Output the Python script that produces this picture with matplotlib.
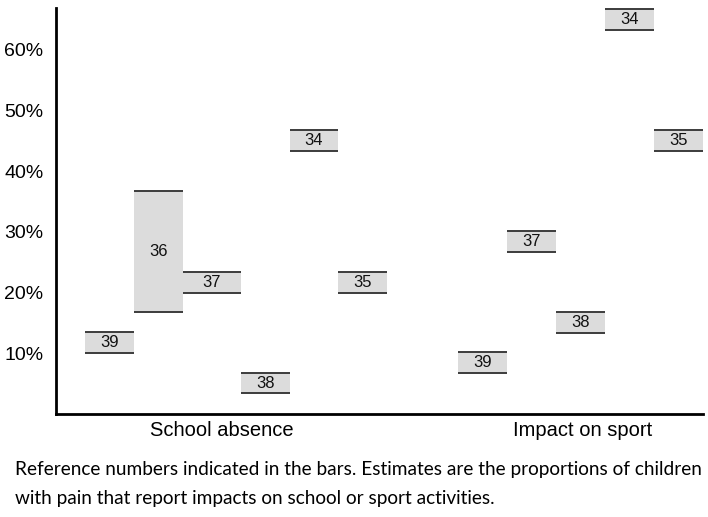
import matplotlib.pyplot as plt

# floating bars: low/high estimate (%) with reference number
school_refs = ['39', '36', '37', '38', '34', '35']
school_low = [10.1, 16.75, 20.0, 3.4, 43.4, 20.0]
school_high = [13.5, 36.8, 23.4, 6.8, 46.8, 23.4]

sport_refs = ['39', '37', '38', '34', '35']
sport_low = [6.7, 26.7, 13.4, 63.3, 43.4]
sport_high = [10.2, 30.2, 16.8, 66.8, 46.8]

categories = ['School absence', 'Impact on sport']
yticks = [10, 20, 30, 40, 50, 60]

caption = ("Reference numbers indicated in the bars. Estimates are the proportions of children\n"
           "with pain that report impacts on school or sport activities.")

# layout (x in pixel-like units along the axis)
school_left = [85, 134, 183, 241, 290, 338]
school_width = [49, 49, 58, 49, 48, 49]
sport_left = [458, 507, 556, 605, 654]
sport_width = [49, 49, 49, 49, 49]
cat_pos = [222, 583]

fill = '#dcdcdc'
edge = '#3c3c3c'

fig = plt.figure(figsize=(7.08, 5.17), dpi=100)
ax = fig.add_axes([56 / 708, 103 / 517, 647 / 708, 406 / 517])


def draw_group(lefts, widths, lows, highs, refs):
    for x, w, lo, hi, ref in zip(lefts, widths, lows, highs, refs):
        ax.bar(x, hi - lo, width=w, bottom=lo, align='edge', color=fill,
               edgecolor='none', zorder=2)
        ax.hlines([lo, hi], x, x + w, colors=edge, linewidth=1.4, zorder=3)
        ax.text(x + w / 2, (lo + hi) / 2, ref, ha='center', va='center',
                fontsize=12, family='Liberation Sans', color='#111111', zorder=4)


draw_group(school_left, school_width, school_low, school_high, school_refs)
draw_group(sport_left, sport_width, sport_low, sport_high, sport_refs)

ax.set_xlim(56, 703)
ax.set_ylim(0, 66.9)
ax.set_yticks(yticks)
ax.set_yticklabels([f'{v}%' for v in yticks], fontsize=14, family='Liberation Sans')
ax.set_xticks(cat_pos)
ax.set_xticklabels(categories, fontsize=14.5, family='Liberation Sans')
ax.tick_params(axis='both', length=0)
ax.tick_params(axis='y', pad=9)
ax.tick_params(axis='x', pad=5)
for side in ['top', 'right']:
    ax.spines[side].set_visible(False)
for side in ['left', 'bottom']:
    ax.spines[side].set_linewidth(2)
    ax.spines[side].set_color('black')

fig.text(15 / 708, 1 - 484 / 517, caption, ha='left', va='center',
         fontsize=13.65, family='Lato', linespacing=1.8, color='black')

fig.savefig('out.png', dpi=100)
